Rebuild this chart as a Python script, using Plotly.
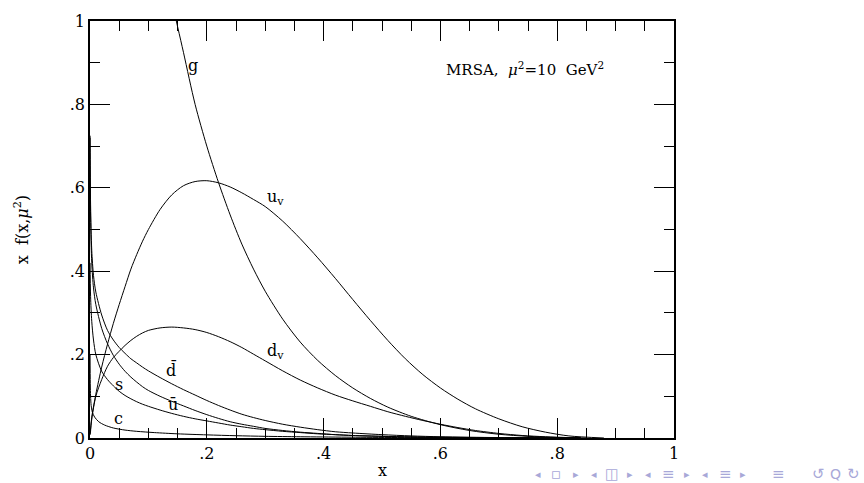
import plotly.graph_objects as go

# ---------------- data ----------------
uv_x = [0.0005, 0.003, 0.01, 0.02, 0.03, 0.04, 0.05, 0.06, 0.07, 0.08, 0.09, 0.10, 0.12, 0.14,
        0.16, 0.18, 0.20, 0.22, 0.24, 0.26, 0.28, 0.30, 0.33, 0.36, 0.39, 0.42, 0.45, 0.48,
        0.51, 0.54, 0.57, 0.60, 0.63, 0.66, 0.70, 0.74, 0.78, 0.82, 0.88]
uv_y = [0.015, 0.05, 0.105, 0.17, 0.225, 0.275, 0.32, 0.363, 0.405, 0.44, 0.472, 0.50, 0.548, 0.583,
        0.605, 0.615, 0.617, 0.612, 0.602, 0.588, 0.572, 0.555, 0.52, 0.478, 0.432, 0.383, 0.332, 0.282,
        0.234, 0.19, 0.152, 0.12, 0.093, 0.07, 0.046, 0.027, 0.014, 0.005, 0.0]

dv_x = [0.0005, 0.003, 0.01, 0.02, 0.03, 0.04, 0.05, 0.06, 0.07, 0.08, 0.09, 0.10, 0.12, 0.14,
        0.16, 0.18, 0.20, 0.22, 0.24, 0.26, 0.28, 0.30, 0.33, 0.36, 0.39, 0.42, 0.45, 0.48,
        0.51, 0.54, 0.57, 0.60, 0.63, 0.66, 0.70, 0.74, 0.78, 0.84]
dv_y = [0.008, 0.045, 0.10, 0.14, 0.172, 0.193, 0.208, 0.222, 0.234, 0.244, 0.252, 0.258, 0.264, 0.266,
        0.264, 0.26, 0.253, 0.243, 0.231, 0.217, 0.201, 0.185, 0.161, 0.139, 0.12, 0.103, 0.089, 0.076,
        0.063, 0.052, 0.042, 0.033, 0.025, 0.018, 0.011, 0.006, 0.003, 0.0]

g_x = [0.10, 0.12, 0.14, 0.16, 0.18, 0.20, 0.22, 0.24, 0.26, 0.28, 0.30, 0.33, 0.36, 0.39,
       0.42, 0.45, 0.48, 0.51, 0.55, 0.60, 0.65, 0.70, 0.75, 0.80, 0.85]
g_y = [1.42, 1.2, 1.05, 0.925, 0.80, 0.70, 0.613, 0.535, 0.465, 0.405, 0.352, 0.285, 0.23, 0.186,
       0.15, 0.12, 0.095, 0.074, 0.052, 0.032, 0.018, 0.009, 0.004, 0.0012, 0.0]

dbar_x = [0.0001, 0.001, 0.003, 0.006, 0.01, 0.02, 0.03, 0.04, 0.05, 0.06, 0.07, 0.08, 0.09, 0.10,
          0.12, 0.14, 0.16, 0.18, 0.20, 0.22, 0.24, 0.26, 0.28, 0.30, 0.33, 0.36, 0.39, 0.42,
          0.45, 0.50, 0.55, 0.60, 0.70, 0.84]
dbar_y = [0.725, 0.56, 0.45, 0.39, 0.35, 0.295, 0.258, 0.235, 0.217, 0.203, 0.19, 0.18, 0.17, 0.161,
          0.145, 0.13, 0.116, 0.103, 0.09, 0.078, 0.067, 0.057, 0.049, 0.042, 0.033, 0.026, 0.02, 0.015,
          0.012, 0.008, 0.005, 0.003, 0.001, 0.0]

ubar_x = [0.0001, 0.001, 0.003, 0.006, 0.01, 0.02, 0.03, 0.04, 0.05, 0.06, 0.07, 0.08, 0.09, 0.10,
          0.12, 0.14, 0.16, 0.18, 0.20, 0.22, 0.24, 0.26, 0.28, 0.30, 0.33, 0.36, 0.39, 0.42,
          0.45, 0.50, 0.55, 0.60, 0.70, 0.84]
ubar_y = [0.72, 0.53, 0.42, 0.36, 0.32, 0.263, 0.226, 0.198, 0.177, 0.16, 0.146, 0.134, 0.123, 0.114,
          0.10, 0.088, 0.077, 0.066, 0.056, 0.047, 0.039, 0.033, 0.028, 0.023, 0.018, 0.014, 0.011, 0.008,
          0.006, 0.004, 0.003, 0.002, 0.0005, 0.0]

s_x = [0.0001, 0.001, 0.003, 0.006, 0.01, 0.02, 0.03, 0.04, 0.05, 0.06, 0.07, 0.08, 0.09, 0.10,
       0.12, 0.14, 0.16, 0.18, 0.20, 0.22, 0.24, 0.26, 0.28, 0.30, 0.33, 0.36, 0.39, 0.42,
       0.45, 0.50, 0.55, 0.60, 0.70, 0.84]
s_y = [0.42, 0.34, 0.28, 0.235, 0.2, 0.16, 0.14, 0.125, 0.112, 0.102, 0.094, 0.087, 0.081, 0.076,
       0.067, 0.059, 0.052, 0.046, 0.041, 0.036, 0.031, 0.027, 0.023, 0.02, 0.016, 0.013, 0.01, 0.008,
       0.006, 0.004, 0.002, 0.001, 0.0003, 0.0]

c_x = [0.0001, 0.0005, 0.001, 0.002, 0.004, 0.008, 0.015, 0.025, 0.04, 0.06, 0.08, 0.11, 0.15,
       0.2, 0.25, 0.3, 0.36, 0.44, 0.6, 0.84]
c_y = [0.2, 0.13, 0.1, 0.078, 0.062, 0.05, 0.039, 0.031, 0.024, 0.019, 0.016, 0.013, 0.01,
       0.0075, 0.0055, 0.004, 0.003, 0.002, 0.0005, 0.0]

tick_vals = [0, 0.2, 0.4, 0.6, 0.8, 1]
tick_text = ["0", ".2", ".4", ".6", ".8", "1"]

curve_labels = ["g", "u<sub>v</sub>", "d<sub>v</sub>", "d\u0304", "\u016b", "s", "c"]
label_x = [0.176, 0.317, 0.317, 0.14, 0.142, 0.049, 0.049]
label_y = [0.893, 0.576, 0.207, 0.164, 0.081, 0.128, 0.046]

nav_symbols = ["\u25C2", "\u25AB", "\u25B8", "\u25C2", "\u25EB", "\u25B8", "\u25C2", "\u2261", "\u25B8",
               "\u25C2", "\u2261", "\u25B8", "\u2261", "\u21BA", "Q", "\u21BB"]
nav_px = [538, 556, 576, 594, 612, 630, 648, 668, 687, 705, 725, 743, 778, 818, 835, 853]
nav_size = [11, 15, 11, 11, 15, 11, 11, 15, 11, 11, 15, 11, 15, 15, 14, 15]

FONT = "DejaVu Serif"

fig = go.Figure()
for xs, ys in [(g_x, g_y), (uv_x, uv_y), (dv_x, dv_y), (dbar_x, dbar_y),
               (ubar_x, ubar_y), (s_x, s_y), (c_x, c_y)]:
    fig.add_trace(go.Scatter(x=xs, y=ys, mode="lines",
                             line=dict(color="black", width=1, shape="spline", smoothing=0.8),
                             hoverinfo="skip"))

axis_common = dict(range=[0, 1], showline=True, linecolor="black", linewidth=1.5, mirror="ticks",
                   ticks="inside", ticklen=20, tickwidth=1, tickcolor="black",
                   tickvals=tick_vals, ticktext=tick_text, showgrid=False, zeroline=False,
                   tickfont=dict(family=FONT, size=16, color="black"))
fig.update_xaxes(**axis_common,
                 minor=dict(ticks="inside", ticklen=10, dtick=0.05, tickwidth=1,
                            tickcolor="black", showgrid=False))
fig.update_yaxes(**axis_common,
                 minor=dict(ticks="inside", ticklen=10, dtick=0.1, tickwidth=1,
                            tickcolor="black", showgrid=False))

C = dict(xanchor="center", yanchor="middle", showarrow=False)
ann = []
for t, lx, ly in zip(curve_labels, label_x, label_y):
    ann.append(dict(text=t, x=lx, y=ly, xref="x", yref="y", **C,
                    font=dict(family=FONT, size=16, color="black")))
ann.append(dict(text="MRSA,  <i>\u03bc</i><sup>2</sup>=10  GeV<sup>2</sup>", x=0.745, y=0.885,
                xref="paper", yref="paper", **C,
                font=dict(family=FONT, size=15, color="black")))
ann.append(dict(text="x", x=0.5, y=(438 - 483) / 425, xref="paper", yref="paper",
                xanchor="center", yanchor="bottom", showarrow=False,
                font=dict(family=FONT, size=16, color="black")))
ann.append(dict(text="x  f(x,<i>\u03bc</i><sup>2</sup>)", x=-0.117, y=0.5, xref="paper", yref="paper",
                textangle=-90, **C,
                font=dict(family=FONT, size=16, color="black")))
for sym, px, sz in zip(nav_symbols, nav_px, nav_size):
    ann.append(dict(text=sym, x=(px - 90) / 584, y=(438 - 475) / 425, xref="paper", yref="paper",
                    **C, font=dict(family="DejaVu Sans", size=sz, color="#a8a8d8")))

fig.update_layout(width=864, height=483, autosize=False,
                  margin=dict(l=90, r=190, t=13, b=45, pad=0),
                  plot_bgcolor="white", paper_bgcolor="white", showlegend=False,
                  font=dict(family=FONT, color="black"), annotations=ann)

fig.write_html("out.html", config={"displayModeBar": False},
               post_script="document.body.style.margin='0';document.body.style.overflow='hidden';")
